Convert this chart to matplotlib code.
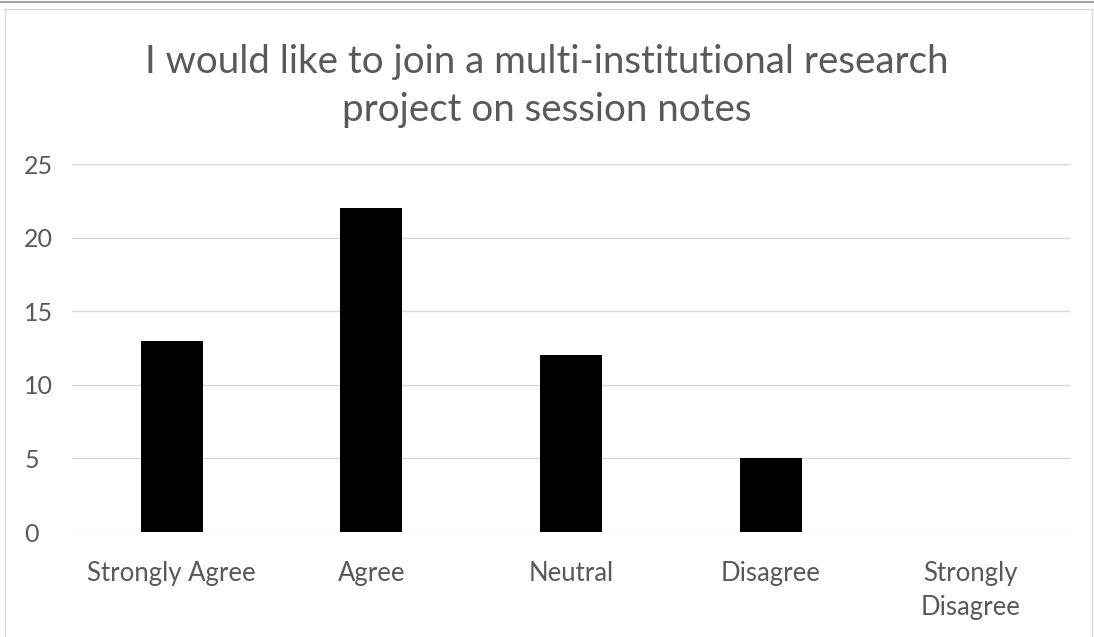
import matplotlib.pyplot as plt
from matplotlib.lines import Line2D

# Survey responses
categories = ['Strongly Agree', 'Agree', 'Neutral', 'Disagree', 'Strongly\nDisagree']
counts = [13, 22, 12, 5, 0]
yticks = [0, 5, 10, 15, 20, 25]

plt.rcParams['font.family'] = ['Lato', 'DejaVu Sans']

fig = plt.figure(figsize=(10.94, 6.37), dpi=100)
ax = fig.add_axes([72 / 1094, 1 - 532 / 637, 998 / 1094, 368 / 637])

ax.bar(range(len(categories)), counts, width=0.31, color='black', zorder=3)

ax.set_xlim(-0.5, len(categories) - 0.5)
ax.set_ylim(0, 25)
ax.set_yticks(yticks)
ax.set_xticks(range(len(categories)))
ax.set_xticklabels(categories, linespacing=1.45, va='top')
ax.tick_params(axis='both', length=0, labelsize=18, colors='#595959')
ax.tick_params(axis='x', labelsize=18.5, pad=21)
for lbl in ax.get_yticklabels():
    lbl.set_horizontalalignment('left')
ax.yaxis.set_tick_params(pad=34.5)

ax.grid(axis='y', color='#d9d9d9', linewidth=1, zorder=0)
for s in ax.spines.values():
    s.set_visible(False)

fig.text(0.5, 1 - 86 / 637,
         'I would like to join a multi-institutional research\nproject on session notes',
         ha='center', va='center', fontsize=27.7, color='#595959', linespacing=1.42)

# chart frame
fig.add_artist(Line2D([0, 1], [1 - 2 / 637] * 2, color='#a6a6a6', lw=1.5))
fig.add_artist(Line2D([5 / 1094, 1], [1 - 9 / 637] * 2, color='#d9d9d9', lw=1))
fig.add_artist(Line2D([5 / 1094] * 2, [0, 1 - 9 / 637], color='#d9d9d9', lw=1))
fig.add_artist(Line2D([1092 / 1094] * 2, [0, 1 - 9 / 637], color='#d9d9d9', lw=1))

fig.savefig('out.png', dpi=100)
